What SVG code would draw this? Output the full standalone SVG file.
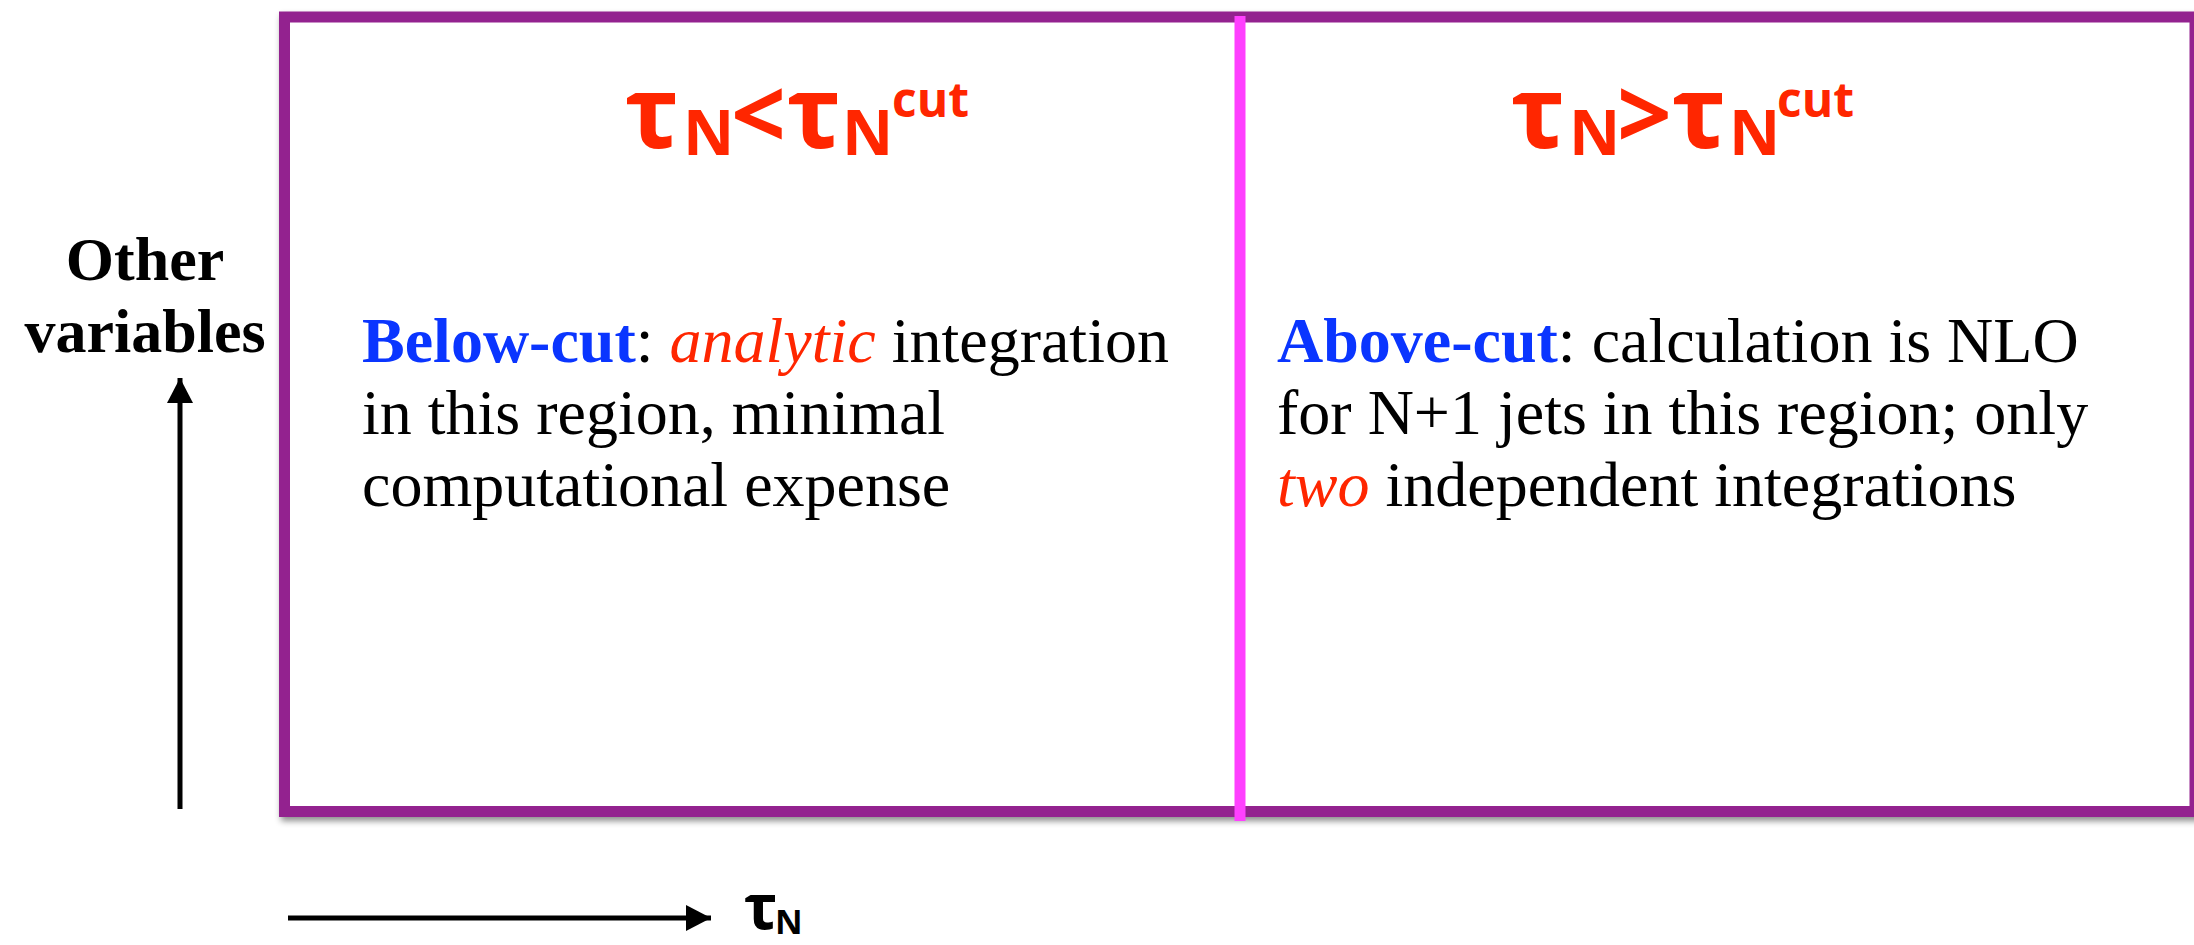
<svg xmlns="http://www.w3.org/2000/svg" width="2194" height="945" viewBox="0 0 2194 945">
<style>
.body{font-family:"Liberation Serif","Times New Roman",serif;font-size:64px;fill:#000}
.b{font-weight:bold;fill:#0a35ff}
.it{font-style:italic;fill:#ff2600}
.ttl{font-family:"Open Sans","DejaVu Sans",sans-serif;font-weight:700;fill:#ff2600}
.axis{font-family:"Liberation Serif","Times New Roman",serif;font-weight:bold;font-size:62px;fill:#000}
.ax{stroke:#000;stroke-width:5;fill:none}
</style>
<defs>
<filter id="sh" x="-5%" y="-5%" width="110%" height="115%">
<feDropShadow dx="2" dy="4" stdDeviation="3" flood-color="#000" flood-opacity="0.45"/>
</filter>
<marker id="ah" markerUnits="userSpaceOnUse" markerWidth="26" markerHeight="26" refX="25" refY="13" orient="auto">
<path d="M0,0 L25,13 L0,26 Z" fill="#000"/>
</marker>
</defs>
<g id="frame">
<rect x="284.5" y="17" width="1910.5" height="794.5" fill="#fff" stroke="#93218f" stroke-width="11" filter="url(#sh)"/>
</g>
<g id="divider">
<line x1="1240" y1="16" x2="1240" y2="821" stroke="#ff40ff" stroke-width="11"/>
</g>
<g id="connectors">
<line class="ax" x1="180" y1="809" x2="180" y2="378" marker-end="url(#ah)"/>
<line class="ax" x1="288" y1="918" x2="711" y2="918" marker-end="url(#ah)"/>
</g>
<g id="title-below">
<text class="ttl"><tspan x="625" y="148" font-size="100">τ</tspan><tspan x="683" y="155" font-size="63">N</tspan><tspan x="731" y="149" font-size="96">&lt;</tspan><tspan x="787" y="148" font-size="100">τ</tspan><tspan x="842" y="155" font-size="63">N</tspan><tspan x="892" y="117" font-size="48">cut</tspan></text>
</g>
<g id="title-above">
<text class="ttl"><tspan x="1511" y="148" font-size="100">τ</tspan><tspan x="1569" y="155" font-size="63">N</tspan><tspan x="1617" y="149" font-size="96">&gt;</tspan><tspan x="1672" y="148" font-size="100">τ</tspan><tspan x="1729" y="155" font-size="63">N</tspan><tspan x="1777" y="117" font-size="48">cut</tspan></text>
</g>
<g id="y-label">
<text class="axis" text-anchor="middle"><tspan x="145" y="280">Other</tspan><tspan x="145" y="352">variables</tspan></text>
</g>
<g id="x-label">
<text class="ttl" style="fill:#000"><tspan x="744" y="929" font-size="62">τ</tspan><tspan x="775" y="934" font-size="34">N</tspan></text>
</g>
<g id="below-cut">
<text class="body"><tspan x="362" y="362"><tspan class="b">Below-cut</tspan>: <tspan class="it">analytic</tspan> integration</tspan><tspan x="362" y="434">in this region, minimal</tspan><tspan x="362" y="506">computational expense</tspan></text>
</g>
<g id="above-cut">
<text class="body"><tspan x="1277" y="362"><tspan class="b">Above-cut</tspan>: calculation is NLO</tspan><tspan x="1277" y="434">for N+1 jets in this region; only</tspan><tspan x="1277" y="506"><tspan class="it">two</tspan> independent integrations</tspan></text>
</g>
</svg>
